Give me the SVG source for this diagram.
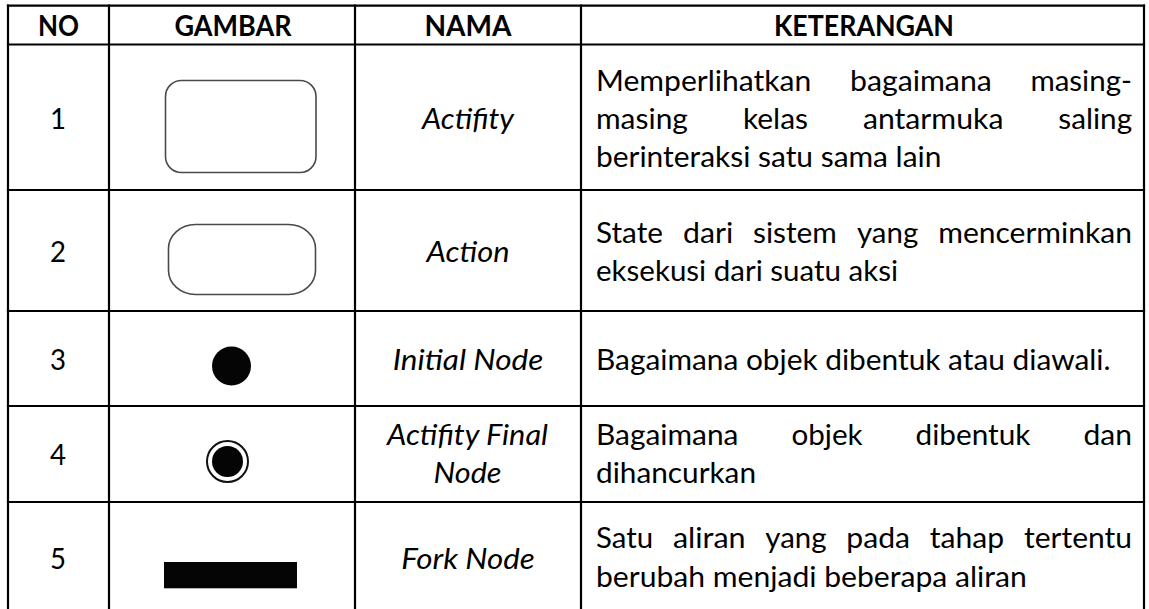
<svg xmlns="http://www.w3.org/2000/svg" width="1149" height="609" viewBox="0 0 1149 609">
  <style>
    .grid line { stroke: #000; stroke-width: 2.2; }
    .t { font-family: Lato, "Liberation Sans", sans-serif; font-size: 29px; fill: #000; }
    .h { font-weight: bold; text-anchor: middle; }
    .c { text-anchor: middle; }
    .i { font-style: italic; }
    .outline { fill: #fff; stroke: #4a4a4a; stroke-width: 1.6; }
    .solid { fill: #050505; }
  </style>
  <rect x="0" y="0" width="1149" height="609" fill="#fff"/>

  <!-- table rules -->
  <g id="grid" class="grid">
    <line x1="6.9" y1="5.7" x2="1145.1" y2="5.7"/>
    <line x1="6.9" y1="44.5" x2="1145.1" y2="44.5"/>
    <line x1="6.9" y1="190" x2="1145.1" y2="190"/>
    <line x1="6.9" y1="311" x2="1145.1" y2="311"/>
    <line x1="6.9" y1="406" x2="1145.1" y2="406"/>
    <line x1="6.9" y1="502" x2="1145.1" y2="502"/>
    <line x1="8" y1="4.6" x2="8" y2="609"/>
    <line x1="109" y1="4.6" x2="109" y2="609"/>
    <line x1="355" y1="4.6" x2="355" y2="609"/>
    <line x1="581" y1="4.6" x2="581" y2="609"/>
    <line x1="1144" y1="4.6" x2="1144" y2="609"/>
  </g>

  <!-- connectors: none in this table -->
  <g id="connectors"/>

  <!-- header row -->
  <g id="header">
    <text class="t h" x="58.5" y="35.5" textLength="41" lengthAdjust="spacingAndGlyphs">NO</text>
    <text class="t h" x="233" y="35.5" textLength="117" lengthAdjust="spacingAndGlyphs">GAMBAR</text>
    <text class="t h" x="468" y="35.5" textLength="87" lengthAdjust="spacingAndGlyphs">NAMA</text>
    <text class="t h" x="864" y="35.5" textLength="180" lengthAdjust="spacingAndGlyphs">KETERANGAN</text>
  </g>

  <!-- 1: activity -->
  <g id="row-activity">
    <text class="t c" x="58" y="129" textLength="16" lengthAdjust="spacingAndGlyphs">1</text>
    <rect class="outline" x="165.5" y="80.5" width="150.5" height="92" rx="16" ry="16"/>
    <text class="t c i" x="468" y="129" textLength="92" lengthAdjust="spacingAndGlyphs">Actifity</text>
    <text class="t" x="596" y="90.7" textLength="215.3" lengthAdjust="spacingAndGlyphs">Memperlihatkan</text>
    <text class="t" x="850" y="90.7" textLength="141.8" lengthAdjust="spacingAndGlyphs">bagaimana</text>
    <text class="t" x="1030.4" y="90.7" textLength="101.6" lengthAdjust="spacingAndGlyphs">masing-</text>
    <text class="t" x="596" y="128.5" textLength="91.9" lengthAdjust="spacingAndGlyphs">masing</text>
    <text class="t" x="742.9" y="128.5" textLength="65.1" lengthAdjust="spacingAndGlyphs">kelas</text>
    <text class="t" x="862.9" y="128.5" textLength="140.5" lengthAdjust="spacingAndGlyphs">antarmuka</text>
    <text class="t" x="1058.3" y="128.5" textLength="73.8" lengthAdjust="spacingAndGlyphs">saling</text>
    <text class="t" x="596" y="166.5" textLength="345.4" lengthAdjust="spacingAndGlyphs">berinteraksi satu sama lain</text>
  </g>

  <!-- 2: action -->
  <g id="row-action">
    <text class="t c" x="58" y="262" textLength="16" lengthAdjust="spacingAndGlyphs">2</text>
    <rect class="outline" x="168.5" y="224.5" width="147" height="70" rx="27" ry="24"/>
    <text class="t c i" x="468" y="262" textLength="83" lengthAdjust="spacingAndGlyphs">Action</text>
    <text class="t" x="596" y="242.5" textLength="66.9" lengthAdjust="spacingAndGlyphs">State</text>
    <text class="t" x="683" y="242.5" textLength="50.2" lengthAdjust="spacingAndGlyphs">dari</text>
    <text class="t" x="753" y="242.5" textLength="83.9" lengthAdjust="spacingAndGlyphs">sistem</text>
    <text class="t" x="857" y="242.5" textLength="61.2" lengthAdjust="spacingAndGlyphs">yang</text>
    <text class="t" x="938.2" y="242.5" textLength="193.8" lengthAdjust="spacingAndGlyphs">mencerminkan</text>
    <text class="t" x="596" y="280.5" textLength="302" lengthAdjust="spacingAndGlyphs">eksekusi dari suatu aksi</text>
  </g>

  <!-- 3: initial node -->
  <g id="row-initial-node">
    <text class="t c" x="58" y="370" textLength="16" lengthAdjust="spacingAndGlyphs">3</text>
    <circle class="solid" cx="231.5" cy="366" r="19.5"/>
    <text class="t c i" x="468" y="370" textLength="150.7" lengthAdjust="spacingAndGlyphs">Initial Node</text>
    <text class="t" x="596" y="370" textLength="514.5" lengthAdjust="spacingAndGlyphs">Bagaimana objek dibentuk atau diawali.</text>
  </g>

  <!-- 4: activity final node -->
  <g id="row-final-node">
    <text class="t c" x="58" y="465" textLength="16" lengthAdjust="spacingAndGlyphs">4</text>
    <circle cx="227.5" cy="461.5" r="20.5" fill="#fff" stroke="#111" stroke-width="2"/>
    <circle class="solid" cx="227.5" cy="461.5" r="15.5"/>
    <text class="t c i" x="467.5" y="444.5" textLength="161" lengthAdjust="spacingAndGlyphs">Actifity Final</text>
    <text class="t c i" x="467.5" y="483" textLength="68" lengthAdjust="spacingAndGlyphs">Node</text>
    <text class="t" x="596" y="444.5" textLength="142.4" lengthAdjust="spacingAndGlyphs">Bagaimana</text>
    <text class="t" x="791.4" y="444.5" textLength="71.2" lengthAdjust="spacingAndGlyphs">objek</text>
    <text class="t" x="915.6" y="444.5" textLength="114.8" lengthAdjust="spacingAndGlyphs">dibentuk</text>
    <text class="t" x="1083.5" y="444.5" textLength="48.5" lengthAdjust="spacingAndGlyphs">dan</text>
    <text class="t" x="596" y="483" textLength="160" lengthAdjust="spacingAndGlyphs">dihancurkan</text>
  </g>

  <!-- 5: fork node -->
  <g id="row-fork-node">
    <text class="t c" x="58" y="569" textLength="16" lengthAdjust="spacingAndGlyphs">5</text>
    <rect class="solid" x="164" y="562" width="133" height="26.3"/>
    <text class="t c i" x="468" y="569" textLength="133.7" lengthAdjust="spacingAndGlyphs">Fork Node</text>
    <text class="t" x="596" y="548" textLength="57.1" lengthAdjust="spacingAndGlyphs">Satu</text>
    <text class="t" x="672.9" y="548" textLength="72.7" lengthAdjust="spacingAndGlyphs">aliran</text>
    <text class="t" x="765.3" y="548" textLength="61.2" lengthAdjust="spacingAndGlyphs">yang</text>
    <text class="t" x="846.3" y="548" textLength="63.8" lengthAdjust="spacingAndGlyphs">pada</text>
    <text class="t" x="929.8" y="548" textLength="74.4" lengthAdjust="spacingAndGlyphs">tahap</text>
    <text class="t" x="1024" y="548" textLength="108" lengthAdjust="spacingAndGlyphs">tertentu</text>
    <text class="t" x="596" y="586.5" textLength="430.7" lengthAdjust="spacingAndGlyphs">berubah menjadi beberapa aliran</text>
  </g>
</svg>
